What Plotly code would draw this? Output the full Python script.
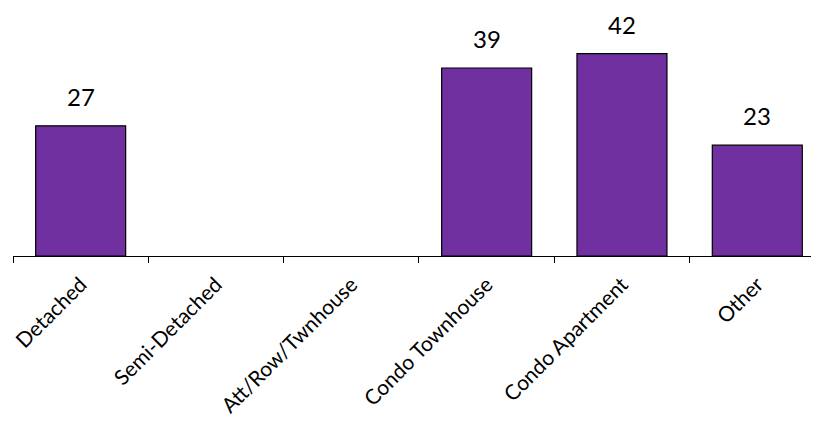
import plotly.graph_objects as go

categories = ["Detached", "Semi-Detached", "Att/Row/Twnhouse", "Condo Townhouse", "Condo Apartment", "Other"]
values = [27, None, None, 39, 42, 23]
labels = ["27", "", "", "39", "42", "23"]

fig = go.Figure(go.Bar(
    x=categories,
    y=values,
    marker=dict(color="#7030A0", line=dict(color="#000000", width=1.2)),
    width=0.665,
    cliponaxis=False,
))

for c, v, t in zip(categories, values, labels):
    if v is None:
        continue
    fig.add_annotation(
        x=c, y=v, text=t, showarrow=False,
        yanchor="bottom", xanchor="center", yshift=13,
        font=dict(size=24, family="Lato", color="#000000"),
    )

fig.update_layout(
    width=811, height=415,
    margin=dict(l=4.5, r=0, t=0, b=167),
    plot_bgcolor="white", paper_bgcolor="white",
    showlegend=False,
    font=dict(family="Lato", size=21, color="#000000"),
)
fig.update_xaxes(
    range=[-0.5, 5.456],
    showline=True, linecolor="#000000", linewidth=1,
    ticks="outside", tickson="boundaries", ticklen=6, tickcolor="#000000",
    tickangle=-45, tickfont=dict(size=21, family="Lato"),
    ticklabelstandoff=7,
    showgrid=False,
)
fig.update_yaxes(range=[0, 51.45], visible=False, showgrid=False)

fig.write_html("out.html")
